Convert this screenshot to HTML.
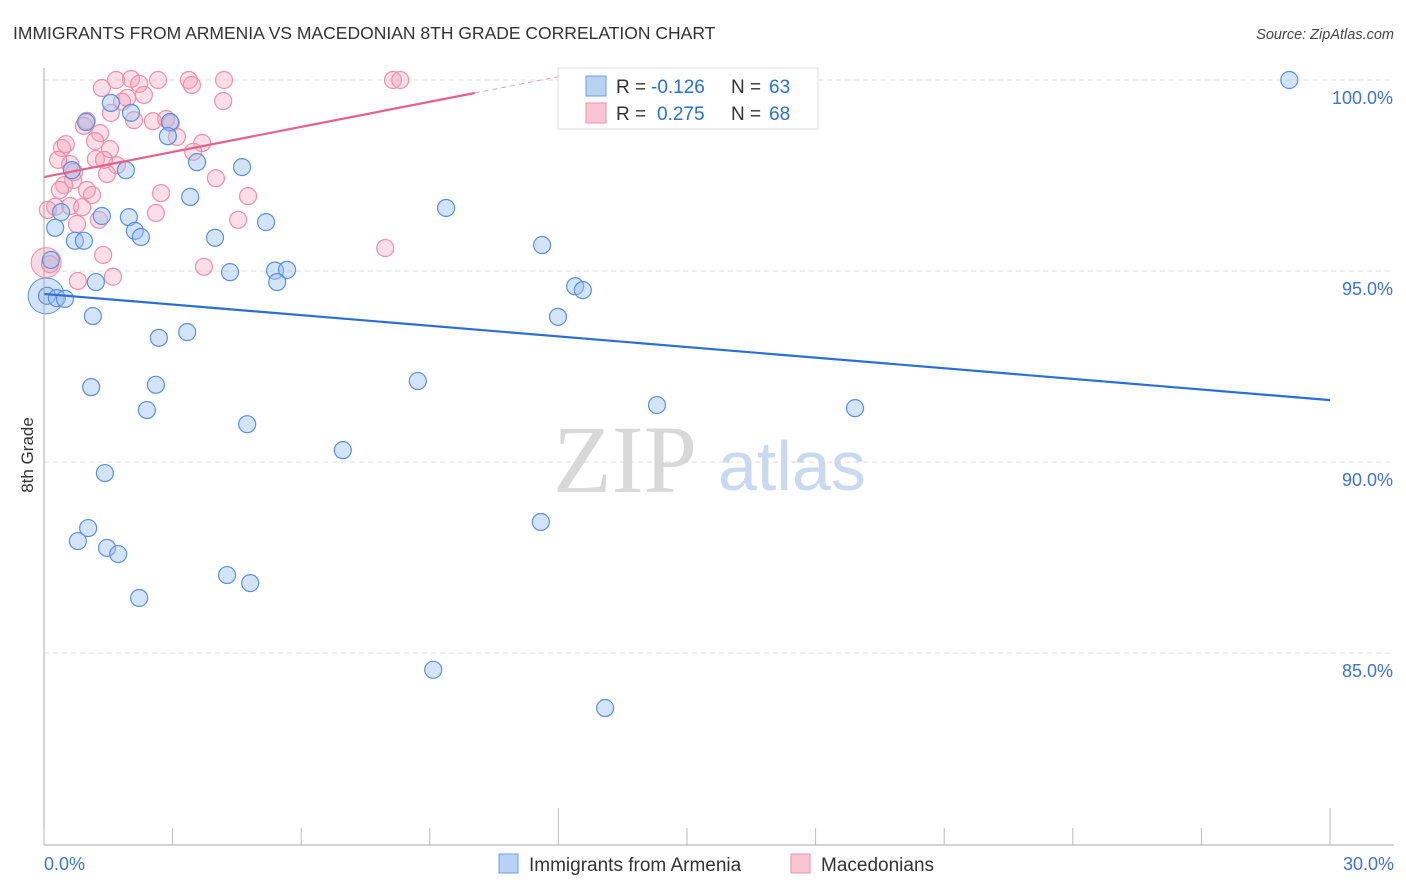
<!DOCTYPE html>
<html><head><meta charset="utf-8"><style>
body{margin:0;background:#fff;font-family:"Liberation Sans",sans-serif}
svg{display:block}
</style></head><body>
<svg id="chart" width="1406" height="892" xmlns="http://www.w3.org/2000/svg">
<text x="13" y="39" font-size="17.5" fill="#333">IMMIGRANTS FROM ARMENIA VS MACEDONIAN 8TH GRADE CORRELATION CHART</text>
<text x="1394" y="39" font-size="14.5" fill="#444" text-anchor="end" font-style="italic">Source: ZipAtlas.com</text>
<g id="grid"></g>
<g>
<text x="553" y="492" font-size="96" fill="#d8d8d8" font-family="Liberation Serif,serif">ZIP</text>
<text x="718" y="490" font-size="70" fill="#c9d9ef">atlas</text>
</g>
<g id="pts"></g>
<g id="lines"></g>
<g id="axes"></g>
<text transform="translate(33,455) rotate(-90)" font-size="17" fill="#333" text-anchor="middle">8th Grade</text>
<g>
<rect x="558" y="68" width="260" height="61" fill="#fff" stroke="#ddd"/>
<rect x="586" y="76" width="20" height="20" fill="#b8d2f4" stroke="#6f9fe0"/>
<rect x="586" y="103" width="20" height="20" fill="#f9c4d4" stroke="#ec8fab"/>
<text x="616" y="93" font-size="19" fill="#333">R =</text>
<text x="651" y="93" font-size="19" fill="#2a6fd0">-0.126</text>
<text x="731" y="93" font-size="19" fill="#333">N =</text>
<text x="769" y="93" font-size="19" fill="#2a6fd0">63</text>
<text x="616" y="120" font-size="19" fill="#333">R =</text>
<text x="657" y="120" font-size="19" fill="#2a6fd0">0.275</text>
<text x="731" y="120" font-size="19" fill="#333">N =</text>
<text x="769" y="120" font-size="19" fill="#2a6fd0">68</text>
</g>
<g>
<rect x="499" y="854" width="19" height="19" fill="#b8d2f4" stroke="#6f9fe0"/>
<text x="529" y="871" font-size="19" fill="#333">Immigrants from Armenia</text>
<rect x="791" y="854" width="19" height="19" fill="#f9c4d4" stroke="#ec8fab"/>
<text x="821" y="871" font-size="19" fill="#333">Macedonians</text>
</g>
</svg>
<script>
const yTicks=[100,95,90,85];
const xTickLabels=["0.0%","30.0%"];
const blueX=[29.05,1.56,2.03,0.98,2.94,2.89,3.57,4.62,1.91,0.65,3.41,9.38,0.40,1.35,1.98,5.18,2.12,2.26,0.26,3.99,0.72,0.93,11.62,0.16,5.39,5.67,4.34,5.44,1.21,12.39,12.57,0.07,0.30,0.49,1.14,11.99,3.34,2.68,8.72,1.10,2.61,2.40,14.30,18.92,4.74,6.97,1.42,11.59,1.03,0.79,1.47,1.73,4.27,4.81,2.22,9.08,13.09];
const blueY=[100,99.40,99.14,98.90,98.90,98.53,97.85,97.72,97.64,97.64,96.94,96.65,96.54,96.44,96.41,96.28,96.05,95.89,96.13,95.87,95.79,95.79,95.68,95.29,95.01,95.03,94.97,94.71,94.71,94.60,94.50,94.35,94.29,94.27,93.82,93.80,93.40,93.25,92.12,91.96,92.02,91.36,91.49,91.41,90.99,90.31,89.71,88.43,88.27,87.93,87.75,87.59,87.04,86.83,86.44,84.56,83.56];
const pinkX=[1.68,2.03,2.66,3.38,4.20,8.14,8.31,1.35,2.22,3.45,2.33,1.94,1.82,1.56,4.18,2.10,2.54,2.85,2.96,1.00,0.93,1.31,3.10,1.19,1.54,3.69,0.42,0.33,1.21,0.61,1.70,1.40,3.48,1.47,0.68,4.01,0.47,1.00,2.73,1.12,4.76,0.26,0.61,0.89,1.28,0.77,2.61,4.53,7.96,0.14,1.38,3.73,1.61,0.79,0.09,0.37,0.70,0.51];
const pinkY=[100,100.03,100,100,100,100,100,99.79,99.90,99.87,99.61,99.53,99.43,99.14,99.45,98.95,98.92,98.98,98.87,98.93,98.80,98.61,98.51,98.40,98.19,98.35,98.22,97.91,97.93,97.80,97.77,97.91,98.12,97.54,97.38,97.43,97.25,97.12,97.04,96.99,96.96,96.68,96.70,96.67,96.34,96.23,96.52,96.34,95.60,95.18,95.42,95.11,94.85,94.74,96.60,97.12,97.59,98.32];
const blueTrend=[94.40,91.62];
const pinkTrend=[97.46,99.66];
const X=v=>44+v/30*1286, Y=v=>80+(100-v)*38.2;
const NS="http://www.w3.org/2000/svg";
function mk(t,a,p){const e=document.createElementNS(NS,t);for(const k in a)e.setAttribute(k,a[k]);p.appendChild(e);return e;}
const grid=document.getElementById('grid'),axes=document.getElementById('axes'),pts=document.getElementById('pts'),lines=document.getElementById('lines');
yTicks.forEach(t=>{
 const l=mk('line',{x1:44,x2:1394,y1:Y(t),y2:Y(t),stroke:'#ddd','stroke-dasharray':'5,4'},grid);
 
 
 const tx=mk('text',{x:1393,y:Y(t)+24,'font-size':18,fill:'#3d74cc','text-anchor':'end'},axes);
 tx.textContent=t.toFixed(1)+'%';
 
 
});
mk('line',{x1:44,x2:44,y1:68,y2:845,stroke:'#aaa'},axes);
mk('line',{x1:44,x2:1394,y1:845,y2:845,stroke:'#aaa'},axes);
for(let i=0;i<=10;i++){const x=X(i*3);const tall=(i==4||i==10);mk('line',{x1:x,x2:x,y1:tall?808:828,y2:845,stroke:'#bbb'},axes);}
const xl=mk('text',{x:44,y:870,'font-size':18,fill:'#3d74cc'},axes);xl.textContent=xTickLabels[0];


const xr=mk('text',{x:1394,y:870,'font-size':18,fill:'#3d74cc','text-anchor':'end'},axes);xr.textContent=xTickLabels[1];


mk('circle',{cx:X(0.05),cy:Y(95.22),r:15,fill:'rgba(244,160,185,0.4)',stroke:'#ec8fab'},pts);
mk('circle',{cx:X(0.05),cy:Y(94.35),r:18,fill:'rgba(160,195,240,0.45)',stroke:'#5a90dc'},pts);
pinkX.forEach((x,i)=>{const c=mk('circle',{cx:X(x),cy:Y(pinkY[i]),r:8.5,fill:'rgba(244,160,185,0.35)',stroke:'#ec8fab','stroke-width':1.2},pts);
 
 });
blueX.forEach((x,i)=>{const c=mk('circle',{cx:X(x),cy:Y(blueY[i]),r:8.5,fill:'rgba(160,195,240,0.45)',stroke:'#5a90dc','stroke-width':1.2},pts);
 
 });
const bl=mk('line',{x1:X(0),y1:Y(blueTrend[0]),x2:X(30),y2:Y(blueTrend[1]),stroke:'#2a6fd6','stroke-width':2.2},lines);


const ps=(pinkTrend[1]-pinkTrend[0])/10.05;
const pl=mk('line',{x1:X(0),y1:Y(pinkTrend[0]),x2:X(10.05),y2:Y(pinkTrend[1]),stroke:'#e6618c','stroke-width':2.2},lines);


mk('line',{x1:X(10.05),y1:Y(pinkTrend[1]),x2:X(12),y2:Y(pinkTrend[0]+ps*12),stroke:'#e6a0b8','stroke-width':1,'stroke-dasharray':'5,4'},lines);
</script>
</body></html>
